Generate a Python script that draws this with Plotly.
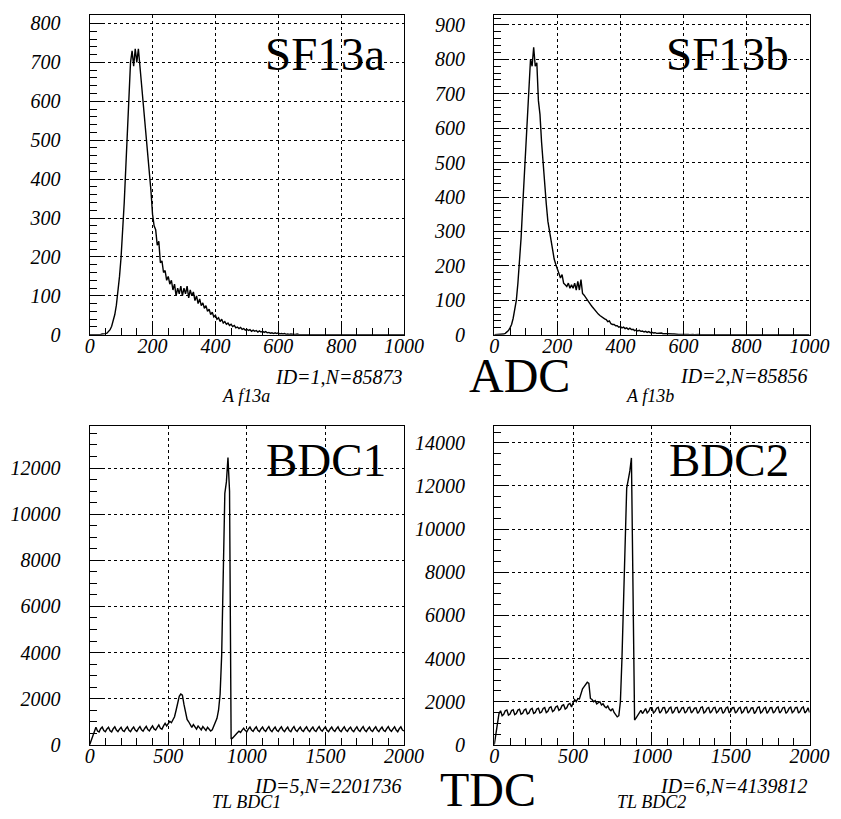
import numpy as np
import plotly.graph_objects as go
from plotly.subplots import make_subplots

# Cuentas por canal
# ADC: un valor cada 5 canales (0..1000)
SF13A_CUENTAS = [
    0, 0, 0, 0, 0, 0, 1, 1, 2, 2, 3, 4, 9, 13, 22, 35, 52, 76, 110, 150,
    200, 265, 340, 430, 520, 610, 700, 730, 690, 735, 700, 735, 690, 650, 600, 560, 510, 470, 420, 370,
    310, 280, 270, 230, 240, 185, 190, 160, 165, 140, 150, 130, 140, 115, 130, 100, 120, 105, 125, 100,
    120, 105, 125, 95, 115, 100, 110, 88, 100, 80, 92, 75, 82, 68, 75, 60, 66, 52, 58, 46,
    50, 40, 44, 34, 40, 30, 34, 27, 30, 24, 27, 21, 24, 18, 20, 16, 19, 14, 16, 12,
    14, 11, 13, 9, 12, 9, 11, 7, 10, 7, 9, 6, 8, 5, 6, 4, 5, 3, 5, 3,
    5, 2, 3, 2, 3, 1, 2, 1, 2, 1, 1, 1, 2, 1, 1, 0, 1, 1, 0, 1,
    1, 0, 1, 0, 1, 0, 0, 1, 0, 0, 1, 0, 0, 0, 1, 0, 0, 0, 0, 0,
    0, 0, 1, 0, 0, 0, 0, 0, 0, 0, 0, 0, 0, 0, 0, 0, 0, 0, 0, 0,
    0, 0, 0, 0, 0, 0, 0, 0, 0, 0, 0, 0, 0, 0, 0, 0, 0, 0, 0, 0, 0,
]
SF13B_CUENTAS = [
    0, 0, 0, 0, 0, 1, 2, 4, 7, 12, 20, 30, 48, 70, 100, 150, 210, 280, 370, 460,
    560, 650, 740, 800, 780, 835, 780, 790, 680, 640, 560, 500, 420, 380, 330, 300, 270, 240, 220, 205,
    190, 180, 165, 175, 150, 145, 140, 150, 135, 145, 135, 150, 130, 155, 130, 160, 120, 115, 108, 100,
    92, 88, 82, 76, 70, 66, 60, 56, 52, 48, 46, 44, 38, 40, 32, 30, 30, 26, 26, 22,
    24, 20, 22, 18, 20, 16, 19, 15, 16, 12, 14, 11, 13, 10, 11, 8, 10, 7, 9, 6,
    7, 5, 6, 4, 5, 4, 5, 3, 4, 3, 3, 2, 3, 2, 2, 1, 2, 1, 1, 2,
    1, 1, 2, 1, 0, 1, 1, 0, 1, 0, 1, 0, 0, 1, 0, 0, 0, 1, 0, 0,
    0, 0, 1, 0, 0, 0, 0, 0, 0, 0, 0, 1, 0, 0, 0, 0, 0, 0, 0, 0,
    0, 0, 0, 0, 0, 0, 0, 0, 0, 0, 0, 0, 0, 0, 0, 0, 0, 0, 0, 0,
    0, 0, 0, 0, 0, 0, 0, 0, 0, 0, 0, 0, 0, 0, 0, 0, 0, 0, 0, 0, 0,
]
# TDC: un valor cada 10 canales (0..2000)
BDC1_CUENTAS = [
    0, 200, 420, 600, 760, 600, 560, 700, 770, 620, 570, 690, 760, 610, 560, 700, 780, 640, 570, 680,
    760, 620, 580, 700, 780, 630, 570, 690, 770, 640, 580, 700, 790, 650, 590, 710, 800, 660, 600, 720,
    820, 690, 640, 760, 860, 720, 680, 820, 930, 820, 900, 1020, 960, 1080, 1220, 1500, 1850, 2100, 2200, 2150,
    1750, 1450, 1100, 1000, 850, 760, 880, 780, 680, 820, 740, 650, 790, 720, 620, 760, 680, 600, 650, 800,
    950, 1150, 1500, 2200, 3900, 7400, 10900, 11400, 12450, 11000, 250, 300, 360, 440, 520, 590, 540, 640, 720, 620,
    570, 690, 770, 640, 580, 700, 780, 630, 570, 690, 770, 640, 580, 700, 790, 640, 570, 690, 770, 630,
    580, 700, 780, 640, 570, 690, 770, 620, 570, 700, 790, 640, 580, 690, 770, 630, 580, 700, 780, 640,
    570, 690, 770, 630, 580, 700, 790, 650, 590, 700, 780, 630, 570, 690, 770, 640, 580, 700, 780, 630,
    570, 690, 780, 640, 580, 700, 770, 630, 570, 690, 780, 640, 580, 700, 790, 640, 570, 690, 770, 630,
    580, 700, 780, 640, 570, 690, 770, 630, 580, 700, 790, 650, 580, 690, 780, 640, 570, 700, 780, 640,
    600,
]
BDC2_CUENTAS = [
    0, 500, 1000, 1450, 1580, 1350, 1420, 1580, 1620, 1380, 1430, 1590, 1630, 1400, 1450, 1610, 1650, 1420, 1460, 1620,
    1660, 1430, 1480, 1640, 1690, 1460, 1500, 1660, 1700, 1480, 1520, 1690, 1730, 1500, 1560, 1720, 1760, 1540, 1600, 1760,
    1800, 1600, 1660, 1820, 1860, 1660, 1720, 1880, 1920, 1760, 1950, 2100, 2000, 2150, 2130, 2350, 2600, 2700, 2800, 2900,
    2850, 2150, 2100, 2000, 2050, 1900, 1950, 2000, 1850, 1900, 1780, 1720, 1800, 1650, 1580, 1680, 1500, 1420, 1300, 1350,
    2000, 4000, 6900, 9900, 11900, 12300, 12700, 13300, 6500, 1150, 1250, 1350, 1500, 1600, 1450, 1550, 1680, 1480, 1560, 1720,
    1720, 1480, 1550, 1700, 1740, 1470, 1560, 1720, 1730, 1480, 1540, 1700, 1750, 1460, 1550, 1720, 1740, 1480, 1560, 1710,
    1730, 1470, 1550, 1720, 1750, 1480, 1560, 1700, 1720, 1460, 1550, 1730, 1760, 1480, 1540, 1700, 1730, 1470, 1560, 1720,
    1740, 1490, 1550, 1700, 1720, 1460, 1540, 1710, 1750, 1480, 1560, 1720, 1730, 1470, 1550, 1700, 1740, 1480, 1540, 1720,
    1750, 1470, 1560, 1710, 1720, 1450, 1550, 1730, 1760, 1480, 1540, 1700, 1740, 1460, 1560, 1720, 1730, 1470, 1550, 1710,
    1760, 1480, 1560, 1720, 1740, 1460, 1540, 1700, 1750, 1490, 1560, 1730, 1740, 1470, 1550, 1710, 1760, 1480, 1560, 1720,
    1500,
]

PASO_ADC = 5
PASO_TDC = 10

ETIQUETAS = ["SF13a", "SF13b", "BDC1", "BDC2"]
INFO_HISTO = ["ID=1,N=85873", "ID=2,N=85856", "ID=5,N=2201736", "ID=6,N=4139812"]
TITULOS_HISTO = ["A f13a", "A f13b", "TL BDC1", "TL BDC2"]
TITULOS_FILA = ["ADC", "TDC"]

W, H = 841, 819
SERIF = "Liberation Serif, Times New Roman, Tinos, DejaVu Serif, serif"


def px_x(p):
    return p / W


def px_y(p):
    return 1 - p / H


def ticks_cursiva(vmax, paso):
    # etiquetas de los ejes en cursiva (estilo PAW)
    vals = list(range(0, int(vmax) + 1, paso))
    return vals, ["<i>%d</i>" % v for v in vals]


def construir_figura():
    fig = make_subplots(rows=2, cols=2)

    # (fila, col, cuentas, paso, xmax, ymax, dtick x, dtick y, minor x, minor y)
    paneles = [
        (1, 1, SF13A_CUENTAS, PASO_ADC, 1000, 822, 200, 100, 50, 20),
        (1, 2, SF13B_CUENTAS, PASO_ADC, 1000, 929, 200, 100, 50, 20),
        (2, 1, BDC1_CUENTAS, PASO_TDC, 2000, 13840, 500, 2000, 100, 500),
        (2, 2, BDC2_CUENTAS, PASO_TDC, 2000, 14800, 500, 2000, 100, 500),
    ]
    dom_x = {1: [px_x(79), px_x(403)], 2: [px_x(496), px_x(821)]}
    dom_y = {1: [px_y(330), px_y(5)], 2: [px_y(746.7), px_y(422.3)]}

    fuente_ticks = dict(family=SERIF, size=20, color="black")

    for fila, col, cuentas, paso, xmax, ymax, dx, dy, mx, my in paneles:
        canales = np.arange(len(cuentas)) * paso
        fig.add_trace(
            go.Scatter(x=canales, y=cuentas, mode="lines",
                       line=dict(color="black", width=1.4), showlegend=False,
                       hoverinfo="skip"),
            row=fila, col=col,
        )
        comun = dict(
            showline=True, linecolor="black", linewidth=1.3, mirror=True,
            ticks="inside", ticklen=12, tickwidth=1.2, tickcolor="black",
            showgrid=True, gridcolor="black", gridwidth=1, griddash="dot",
            zeroline=False, tickfont=fuente_ticks, tickmode="array",
        )
        xv, xt = ticks_cursiva(xmax, dx)
        yv, yt = ticks_cursiva(ymax, dy)
        fig.update_xaxes(range=[0, xmax], tickvals=xv, ticktext=xt, domain=dom_x[col],
                         ticklabelstandoff=-7,
                         minor=dict(tickmode="linear", tick0=0, dtick=mx, ticks="inside",
                                    ticklen=7, tickcolor="black", showgrid=False),
                         row=fila, col=col, **comun)
        fig.update_yaxes(range=[0, ymax], tickvals=yv, ticktext=yt, domain=dom_y[fila],
                         ticklabelstandoff=24,
                         minor=dict(tickmode="linear", tick0=0, dtick=my, ticks="inside",
                                    ticklen=7, tickcolor="black", showgrid=False),
                         row=fila, col=col, **comun)

    # Textos: etiquetas grandes, info del histograma y títulos
    anot = []
    centros_etq = [(322, 45), (736, 45), (323, 457), (738, 457)]
    for txt, (cx, cy) in zip(ETIQUETAS, centros_etq):
        anot.append(dict(text=txt, x=px_x(cx), y=px_y(cy), xanchor="center", yanchor="middle",
                         font=dict(family=SERIF, size=47, color="black")))
    info_pos = [(403, 373), (820, 372), (402, 789), (820, 789)]
    for txt, (rx, cy) in zip(INFO_HISTO, info_pos):
        anot.append(dict(text="<i>%s</i>" % txt, x=px_x(rx), y=px_y(cy), xanchor="right",
                         yanchor="middle", font=dict(family=SERIF, size=20, color="black")))
    tit_pos = [(240, 392), (657, 392), (241, 805), (658, 805)]
    for txt, (cx, cy) in zip(TITULOS_HISTO, tit_pos):
        anot.append(dict(text="<i>%s</i>" % txt, x=px_x(cx), y=px_y(cy), xanchor="center",
                         yanchor="middle", font=dict(family=SERIF, size=18, color="black")))
    for txt, (cx, cy) in zip(TITULOS_FILA, [(522, 371), (490, 792)]):
        anot.append(dict(text=txt, x=px_x(cx), y=px_y(cy), xanchor="center", yanchor="middle",
                         font=dict(family=SERIF, size=48, color="black")))
    for a in anot:
        a.update(xref="paper", yref="paper", showarrow=False)

    fig.update_layout(
        width=W, height=H, autosize=False,
        margin=dict(l=0, r=0, t=0, b=0),
        paper_bgcolor="white", plot_bgcolor="white",
        annotations=anot,
    )
    return fig


if __name__ == "__main__":
    fig = construir_figura()
    fig.write_html("out.html")
